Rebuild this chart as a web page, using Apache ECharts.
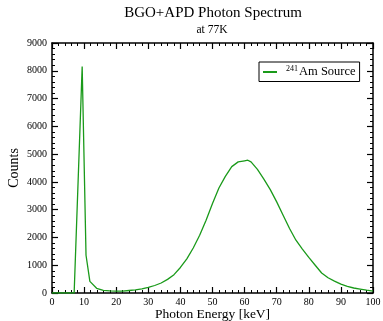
<!DOCTYPE html>
<html>
<head>
<meta charset="utf-8">
<script src="https://cdn.jsdelivr.net/npm/echarts@6/dist/echarts.min.js"></script>
<style>html,body{margin:0;padding:0;background:#fff;}#c{width:383px;height:321px;}</style>
</head>
<body>
<div id="c"></div>
<script>
var energy = [0,2,4,6,6.9,9.4,10.6,11.8,13.9,16,18,20,22,24,26,28,30,32,34,36,38,40,42,44,46,48,50,52,54,56,58,60,61,62,64,66,68,70,72,74,76,78,80,82,84,86,88,90,92,94,96,98,100];
var counts = [0,0,0,0,0,8150,1360,420,170,95,75,65,70,90,110,150,200,270,360,490,660,920,1230,1620,2080,2620,3220,3780,4200,4550,4720,4760,4780,4720,4450,4100,3720,3280,2800,2320,1900,1580,1280,1000,720,550,430,320,240,180,140,100,70];
var xTicks = {min:0, max:100, interval:10};
var yTicks = {min:0, max:9000, interval:1000};
var titleText = 'BGO+APD Photon Spectrum';
var subText = 'at 77K';
var seriesName = '241Am Source';

var FONT = '"Liberation Serif", "Times New Roman", serif';
var data = energy.map(function(e,i){return [e, counts[i]];});
var chart = echarts.init(document.getElementById('c'), null, {renderer:'canvas'});

function axisCommon(extra){
  var a = {
    type:'value',
    axisLine:{show:true, onZero:false, lineStyle:{color:'#000', width:1.5}},
    axisTick:{show:true, inside:true, length:6, lineStyle:{color:'#000', width:1.2}},
    minorTick:{show:true, splitNumber:5, length:3, lineStyle:{color:'#000', width:1}},
    splitLine:{show:false},
    axisLabel:{show:false}
  };
  for (var k in extra) a[k] = extra[k];
  return a;
}

chart.setOption({
  animation:false,
  backgroundColor:'#fff',
  grid:{left:52, right:10, top:43, bottom:28, containLabel:false, outerBoundsMode:'none'},
  graphic:[
    {type:'text', style:{text:titleText, x:213, y:13.5, textAlign:'center', textVerticalAlign:'middle', font:'15px ' + FONT, fill:'#000'}},
    {type:'text', style:{text:subText, x:212, y:29.5, textAlign:'center', textVerticalAlign:'middle', font:'11.5px ' + FONT, fill:'#000'}}
  ],
  xAxis:[
    axisCommon({min:xTicks.min, max:xTicks.max, interval:xTicks.interval, position:'bottom',
      name:'Photon Energy [keV]', nameLocation:'middle', nameGap:14, nameMoveOverlap:false,
      nameTextStyle:{fontFamily:FONT, fontSize:13.5, color:'#000'},
      axisLabel:{show:true, margin:4, fontFamily:FONT, fontSize:10, color:'#000'}}),
    axisCommon({min:xTicks.min, max:xTicks.max, interval:xTicks.interval, position:'top'})
  ],
  yAxis:[
    axisCommon({min:yTicks.min, max:yTicks.max, interval:yTicks.interval, position:'left',
      name:'Counts', nameLocation:'middle', nameGap:31, nameMoveOverlap:false,
      nameTextStyle:{fontFamily:FONT, fontSize:14, color:'#000'},
      axisLabel:{show:true, margin:5, fontFamily:FONT, fontSize:10, color:'#000',
        formatter:function(v){return String(v);}}}),
    axisCommon({min:yTicks.min, max:yTicks.max, interval:yTicks.interval, position:'right'})
  ],
  legend:{
    show:true, left:259, top:62, orient:'vertical',
    padding:[3,4,3,4], itemGap:0,
    itemWidth:14, itemHeight:2,
    borderColor:'#000', borderWidth:1, backgroundColor:'#fff',
    icon:'rect',
    data:[{name:seriesName, icon:'rect'}],
    formatter:function(){ return '{sup|241}{n|Am Source}'; },
    textStyle:{
      fontFamily:FONT, color:'#000', fontSize:12,
      rich:{
        sup:{fontFamily:FONT, fontSize:8, verticalAlign:'top', padding:[0,1,6,4], color:'#000'},
        n:{fontFamily:FONT, fontSize:12.5, color:'#000'}
      }
    }
  },
  series:[{
    name:seriesName, type:'line', xAxisIndex:0, yAxisIndex:0,
    data:data, symbol:'none', smooth:false,
    lineStyle:{color:'#1a9a1a', width:1.3},
    itemStyle:{color:'#1a9a1a'}
  }]
});
</script>
</body>
</html>
